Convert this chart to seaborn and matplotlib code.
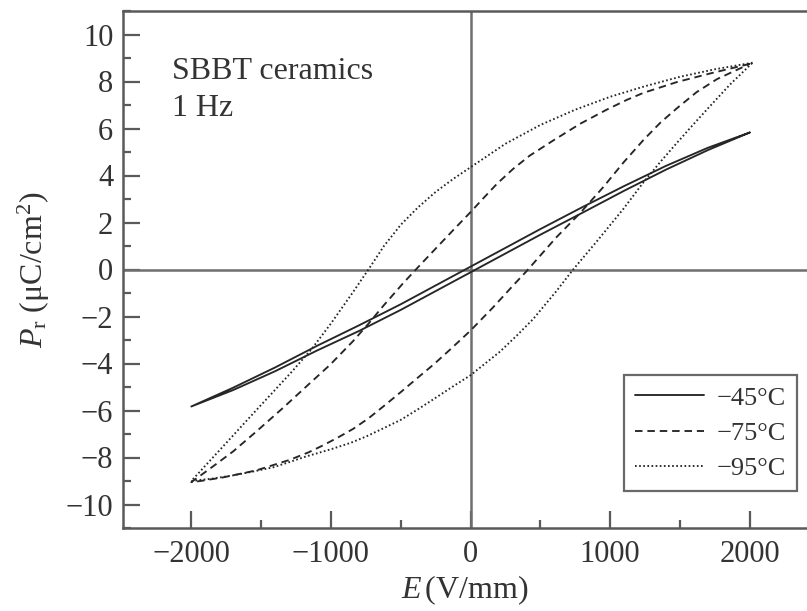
import matplotlib
matplotlib.use("Agg")
import matplotlib.pyplot as plt
from matplotlib.ticker import MultipleLocator
import pandas as pd
import seaborn as sns

# Hysteresis loops of SBBT ceramics at 1 Hz: field E (V/mm) vs polarization (uC/cm^2)
# Each loop: descending branch (E from +Emax to -Emax), then ascending branch.

# -45 °C
e45_down = [2000, 1700, 1400, 1100, 800, 500, 200, 0, -200, -500, -800, -1100, -1400, -1700, -2000]
p45_down = [5.83, 5.18, 4.41, 3.55, 2.65, 1.72, 0.76, 0.12, -0.52, -1.48, -2.38, -3.25, -4.17, -5.03, -5.83]
e45_up = [-2000, -1700, -1400, -1100, -800, -500, -200, 0, 200, 500, 800, 1100, 1400, 1700, 2000]
p45_up = [-5.83, -5.13, -4.33, -3.45, -2.62, -1.72, -0.76, -0.12, 0.52, 1.48, 2.41, 3.35, 4.25, 5.08, 5.83]

# -75 °C
e75_down = [2000, 1860, 1715, 1480, 1240, 1120, 975, 785, 595, 425, 305, 190, 90, 0,
            -120, -240, -385, -485, -625, -730, -840, -1005, -1180, -1345, -1535, -1700, -1865, -2000]
p75_down = [8.75, 8.55, 8.34, 7.98, 7.52, 7.22, 6.8, 6.2, 5.5, 4.85, 4.28, 3.65, 3.02, 2.44,
            1.7, 0.95, 0.04, -0.6, -1.55, -2.3, -3.04, -4.05, -5.0, -5.9, -6.9, -7.74, -8.47, -9.05]
e75_up = [-2000, -1935, -1775, -1535, -1295, -1160, -1055, -950, -840, -730, -625, -500, -385, -260, -145,
          0, 160, 305, 400, 615, 785, 950, 1095, 1240, 1360, 1480, 1620, 1765, 2000]
p75_up = [-9.05, -9.0, -8.85, -8.55, -8.1, -7.78, -7.48, -7.15, -6.78, -6.33, -5.83, -5.22, -4.64, -4.02, -3.4,
          -2.6, -1.62, -0.68, -0.08, 1.37, 2.4, 3.5, 4.55, 5.52, 6.25, 6.87, 7.55, 8.1, 8.75]

# -95 °C
e95_down = [2020, 1750, 1500, 1250, 1000, 750, 500, 250, 0, -125, -250, -375, -500, -620, -720,
            -840, -1000, -1140, -1280, -1415, -1560, -1700, -1850, -2000]
p95_down = [8.8, 8.52, 8.2, 7.8, 7.35, 6.8, 6.15, 5.35, 4.35, 3.85, 3.3, 2.65, 1.9, 1.0, 0.1,
            -0.95, -2.3, -3.4, -4.35, -5.22, -6.15, -7.06, -8.03, -9.0]
e95_up = [-2000, -1850, -1700, -1560, -1415, -1300, -1180, -1000, -860, -745, -625, -500, -385, -260, -145,
          0, 210, 330, 450, 615, 735, 905, 1095, 1240, 1360, 1480, 1600, 1715, 1860, 2020]
p95_up = [-9.0, -8.9, -8.76, -8.6, -8.42, -8.2, -7.96, -7.65, -7.38, -7.1, -6.76, -6.4, -5.98, -5.5, -5.05,
          -4.5, -3.5, -2.82, -2.1, -0.92, 0.0, 1.2, 2.58, 3.72, 4.58, 5.4, 6.2, 6.95, 7.88, 8.8]

labels = ["\u221245\u00b0C", "\u221275\u00b0C", "\u221295\u00b0C"]
x_ticks = [-2000, -1000, 0, 1000, 2000]
y_ticks = [-10, -8, -6, -4, -2, 0, 2, 4, 6, 8, 10]

loops = [
    (labels[0], e45_down + e45_up, p45_down + p45_up),
    (labels[1], e75_down + e75_up, p75_down + p75_up),
    (labels[2], e95_down + e95_up, p95_down + p95_up),
]
frames = []
for name, e, p in loops:
    frames.append(pd.DataFrame({"E": e, "P": p, "T": name}))
df = pd.concat(frames, ignore_index=True)

sns.set_theme(style="ticks")
plt.rcParams["font.family"] = ["Liberation Serif", "DejaVu Serif"]
plt.rcParams["mathtext.fontset"] = "custom"
plt.rcParams["mathtext.rm"] = "Liberation Serif"
plt.rcParams["mathtext.it"] = "Liberation Serif:italic"

fig = plt.figure(figsize=(8.07, 6.11), dpi=100)
ax = fig.add_axes([123 / 807, 83 / 611, 684 / 807, 517 / 611])

ink = "#262626"
axis_grey = "#5a5a5a"
text_col = "#333333"

# zero reference lines
ax.axhline(0, color="#6e6e6e", lw=1.8, zorder=1)
ax.axvline(0, color="#6e6e6e", lw=1.8, zorder=1)

sns.lineplot(
    data=df, x="E", y="P", style="T", style_order=labels,
    dashes={labels[0]: "", labels[1]: (4.0, 2.6), labels[2]: (0.9, 1.3)},
    estimator=None, sort=False, color=ink, linewidth=1.35, ax=ax, zorder=3,
)

ax.set_xlim(-2489, 2410)
ax.set_ylim(-11.0, 11.0)
ax.set_xticks(x_ticks)
ax.set_yticks(y_ticks)
ax.xaxis.set_minor_locator(MultipleLocator(500))
ax.yaxis.set_minor_locator(MultipleLocator(1))

for s in ["top", "left", "bottom"]:
    ax.spines[s].set_color(axis_grey)
    ax.spines[s].set_linewidth(1.8)
ax.spines["right"].set_visible(False)

ax.tick_params(which="major", direction="in", length=12, width=1.6, color=axis_grey,
               labelsize=22, labelcolor=text_col, pad=7, top=False, right=False)
ax.tick_params(which="minor", direction="in", length=6, width=1.6, color=axis_grey,
               top=False, right=False)
ax.tick_params(axis="x", which="major", pad=9)

ax.set_xlabel(r"$E\,$(V/mm)", fontsize=23, color=text_col, labelpad=3)
ax.set_ylabel(r"$P_{\mathrm{r}}$ ($\mathrm{\mu}$C/cm$^{2}$)", fontsize=23, color=text_col, labelpad=10)

ax.text(0.071, 0.868, "SBBT ceramics", transform=ax.transAxes, fontsize=23, color=text_col,
        va="baseline", ha="left")
ax.text(0.071, 0.796, "1 Hz", transform=ax.transAxes, fontsize=23, color=text_col,
        va="baseline", ha="left")

leg = ax.legend(loc="lower right", bbox_to_anchor=(0.985, 0.072), fontsize=19,
                frameon=True, fancybox=False, handlelength=2.6, handletextpad=0.5,
                labelspacing=0.45, borderpad=0.4, borderaxespad=0.0)
leg.get_frame().set_edgecolor("#444444")
leg.get_frame().set_linewidth(1.6)
for t in leg.get_texts():
    t.set_color(text_col)

fig.savefig("out.png", dpi=100)
